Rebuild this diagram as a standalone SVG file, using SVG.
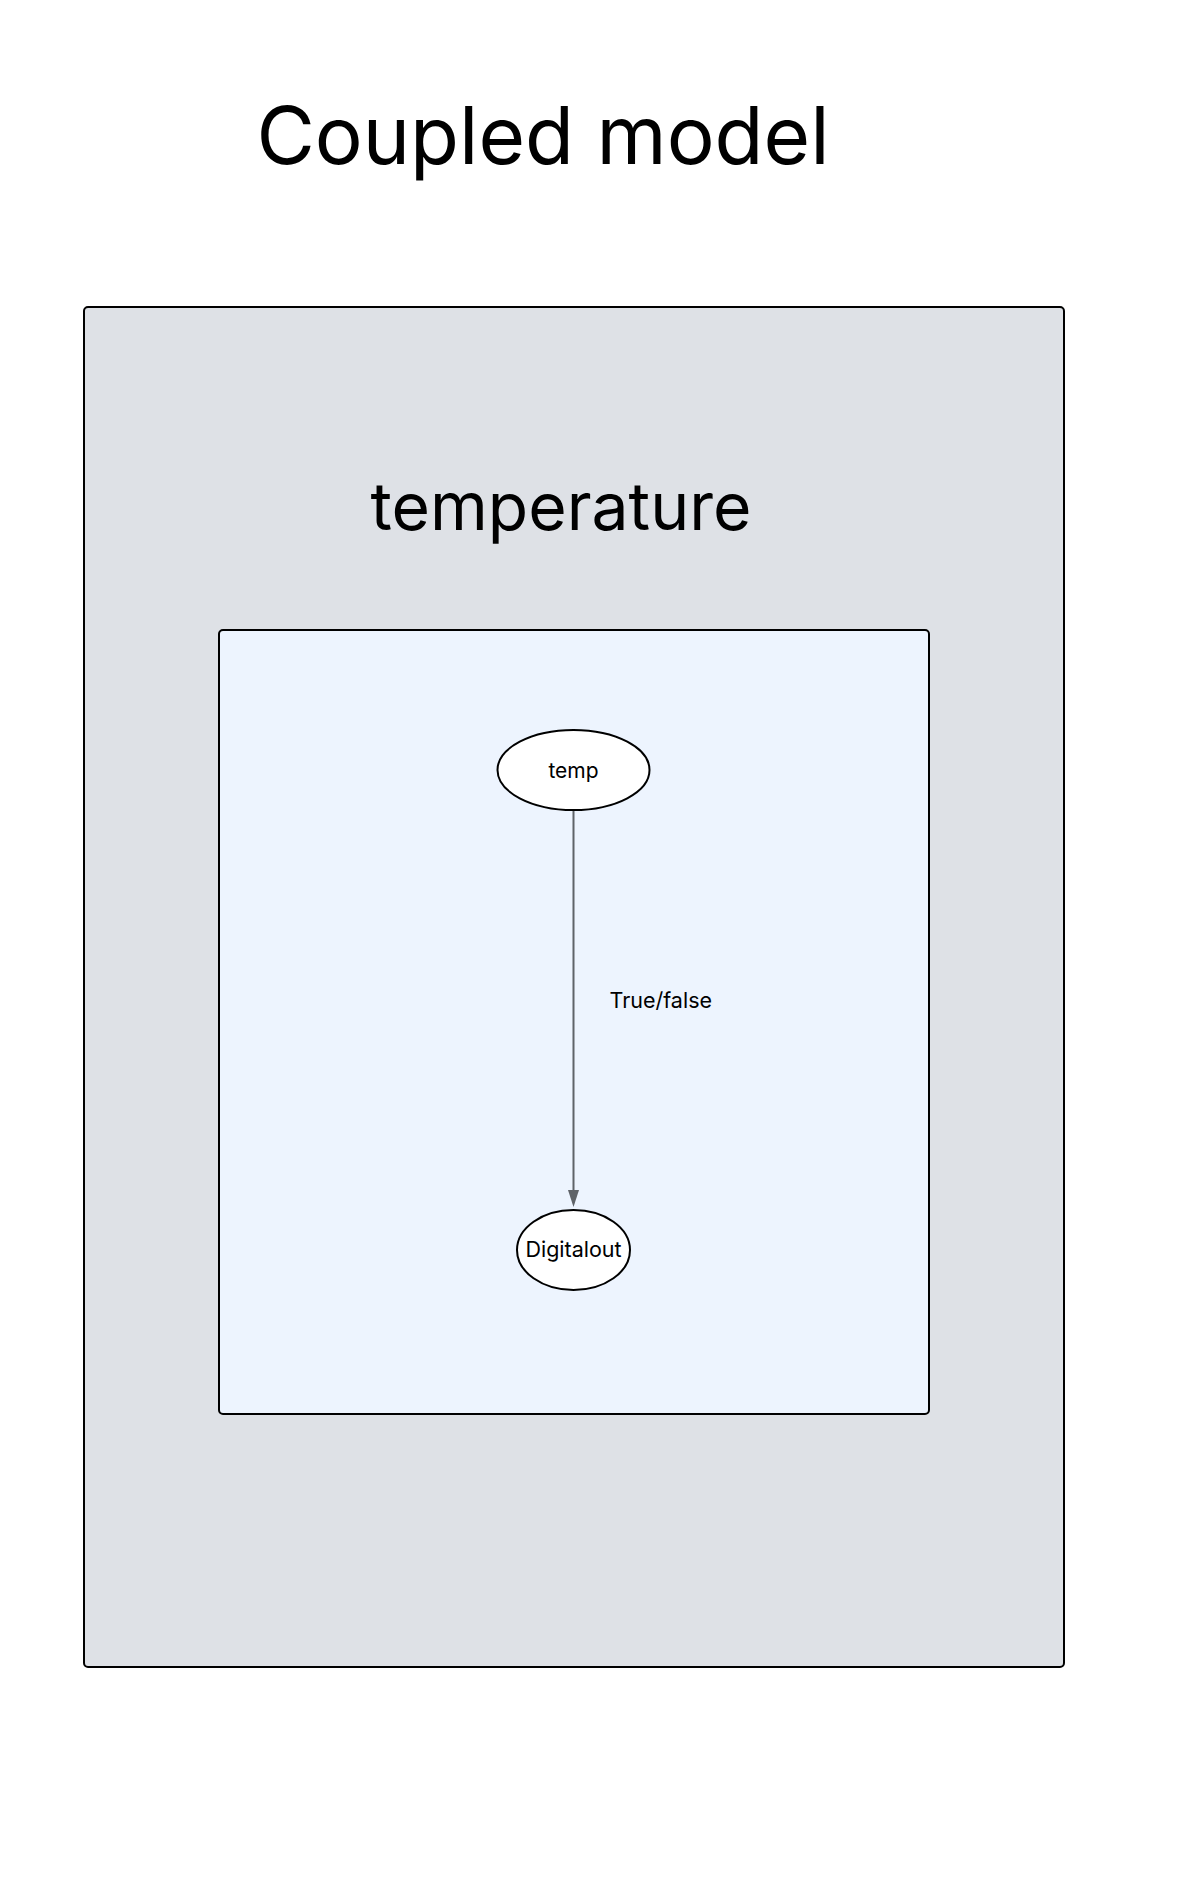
<svg xmlns="http://www.w3.org/2000/svg" width="1180" height="1897" viewBox="0 0 1180 1897">
<style>
.t{font-family:Inter,"Liberation Sans",sans-serif;fill:#000}
.box{stroke:#000;stroke-width:2}
.node{fill:#fff;stroke:#000;stroke-width:2}
.edge{stroke:#5f6368;stroke-width:2;fill:none}
</style>
<rect width="1180" height="1897" fill="#fff"/>
<text class="t" x="543" y="164" font-size="80" text-anchor="middle">Coupled model</text>
<g id="cluster-temperature">
<rect class="box" x="84" y="307" width="980" height="1360" rx="4" fill="#dee1e6"/>
<text class="t" x="561" y="530" font-size="66" text-anchor="middle">temperature</text>
<rect class="box" x="219" y="630" width="710" height="784" rx="4" fill="#edf4fe"/>
</g>
<g id="connectors">
<line class="edge" x1="573.5" y1="810" x2="573.5" y2="1190"/>
<path d="M568,1190 L579,1190 L573.5,1207 Z" fill="#5f6368"/>
<text class="t" x="609.5" y="1008" font-size="21.5">True/false</text>
</g>
<g id="node-temp">
<ellipse class="node" cx="573.5" cy="770" rx="76" ry="40"/>
<text class="t" x="573.5" y="778" font-size="21" text-anchor="middle">temp</text>
</g>
<g id="node-digitalout">
<ellipse class="node" cx="573.5" cy="1250" rx="56.5" ry="40"/>
<text class="t" x="573.5" y="1257" font-size="21.5" text-anchor="middle">Digitalout</text>
</g>
</svg>
